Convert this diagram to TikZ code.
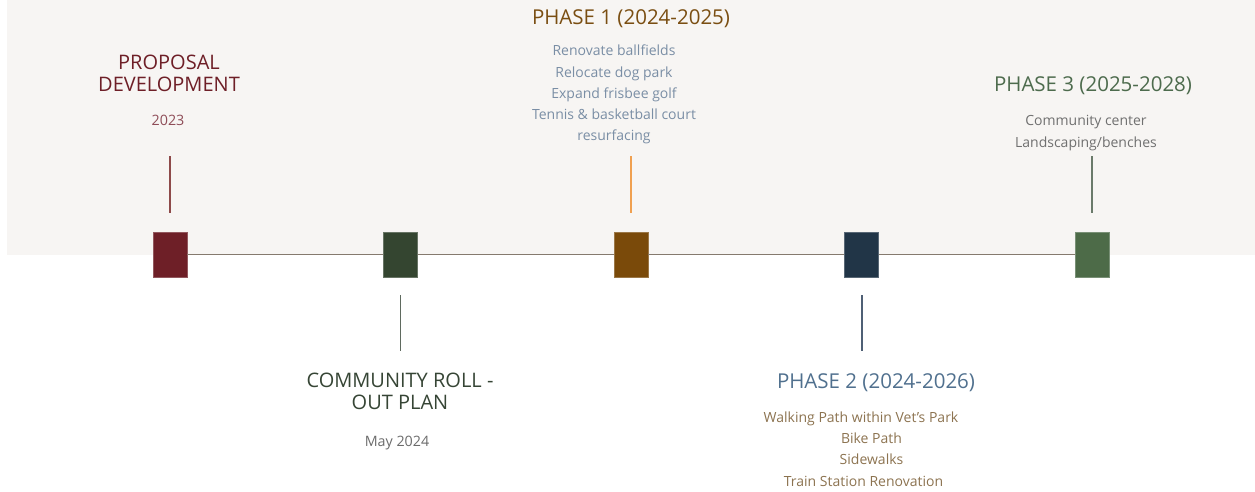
\documentclass[tikz,border=0pt]{standalone}
\usepackage{fontspec}
\setmainfont{Open Sans}
\definecolor{bgc}{HTML}{F7F5F3}
\definecolor{axisc}{HTML}{857A6E}
\definecolor{propred}{HTML}{6E1F27}
\definecolor{propyear}{HTML}{8E4C57}
\definecolor{propline}{HTML}{8E4A4A}
\definecolor{commt}{HTML}{364535}
\definecolor{commsq}{HTML}{344530}
\definecolor{commy}{HTML}{6B6B6B}
\definecolor{commline}{HTML}{5F6A5F}
\definecolor{phat}{HTML}{7A4E12}
\definecolor{phasq}{HTML}{7A4A0A}
\definecolor{phai}{HTML}{7A8EA5}
\definecolor{phal}{HTML}{F0A050}
\definecolor{phbt}{HTML}{50708E}
\definecolor{phbsq}{HTML}{213547}
\definecolor{phbi}{HTML}{8C7350}
\definecolor{phbl}{HTML}{4F6075}
\definecolor{phct}{HTML}{4D6B4D}
\definecolor{phcsq}{HTML}{4D6B48}
\definecolor{phci}{HTML}{707070}
\definecolor{phcl}{HTML}{6A7A6A}
\tikzset{
  sq/.style={draw=#1!75!white, line width=0.8pt, fill=#1, minimum width=34pt, minimum height=45pt, inner sep=0pt},
  ttl/.style={text=#1, font={\fontsize{20}{22}\selectfont}, align=center, anchor=base, inner sep=0pt},
  phttl/.style={text=#1, font={\fontsize{20.5}{22}\selectfont}, anchor=base, inner sep=0pt},
  sub/.style={text=#1, font={\fontsize{14}{21.3}\selectfont}, align=center, anchor=base, inner sep=0pt},
  yr/.style={text=#1, font={\fontsize{14.3}{20}\selectfont}, anchor=base, inner sep=0pt},
  stem/.style={draw=#1, line width=1.1pt},
  axis/.style={draw=axisc, line width=1.2pt}
}
\begin{document}
\begin{tikzpicture}[x=1pt,y=-1pt]
\useasboundingbox (0,0) rectangle (1255,492);
\fill[bgc] (7,0) rectangle (1255,255);
% squares
\node[sq=propred] (s1) at (170,254.5) {};
\node[sq=commsq]  (s2) at (400.5,254.5) {};
\node[sq=phasq]   (s3) at (631,254.5) {};
\node[sq=phbsq]   (s4) at (861.5,254.5) {};
\node[sq=phcsq]   (s5) at (1092,254.5) {};
\draw[axis] (s1.east) -- (s2.west);
\draw[axis] (s2.east) -- (s3.west);
\draw[axis] (s3.east) -- (s4.west);
\draw[axis] (s4.east) -- (s5.west);
% stems
\coordinate (a1) at (170,156); \coordinate (b1) at (170,213);
\coordinate (a2) at (400.5,295); \coordinate (b2) at (400.5,351);
\coordinate (a3) at (631,156); \coordinate (b3) at (631,213);
\coordinate (a4) at (862,295); \coordinate (b4) at (862,351);
\coordinate (a5) at (1092,156); \coordinate (b5) at (1092,213);
\draw[stem=propline] (a1) -- (b1);
\draw[stem=commline] (a2) -- (b2);
\draw[stem=phal] (a3) -- (b3);
\draw[stem=phbl] (a4) -- (b4);
\draw[stem=phcl] (a5) -- (b5);
% proposal
\node[ttl=propred] (t1) at (169,92) {PROPOSAL\\DEVELOPMENT};
\node[yr=propyear] (y1) at (168,126) {2023};
% community
\node[ttl=commt] (t2) at (400,409) {COMMUNITY ROLL -\\OUT PLAN};
\node[yr=commy] (y2) at (397,446) {May 2024};
% phase 1
\node[phttl=phat] (t3) at (631,25) {PHASE 1 (2024-2025)};
\node[sub=phai] (i3) at (614,141) {Renovate ballfields\\Relocate dog park\\Expand frisbee golf\\Tennis \& basketball court\\resurfacing};
% phase 2
\node[phttl=phbt] (t4) at (876,388) {PHASE 2 (2024-2026)};
\node[sub=phbi] (i4) at (866,486) {Walking Path within Vet’s Park\hspace*{10pt}\\\hspace*{11pt}Bike Path\\\hspace*{11pt}Sidewalks\\Train Station Renovation\hspace*{5pt}};
% phase 3
\node[phttl=phct] (t5) at (1093,92) {PHASE 3 (2025-2028)};
\node[sub=phci] (i5) at (1086,147) {Community center\\Landscaping/benches};
\end{tikzpicture}
\end{document}
